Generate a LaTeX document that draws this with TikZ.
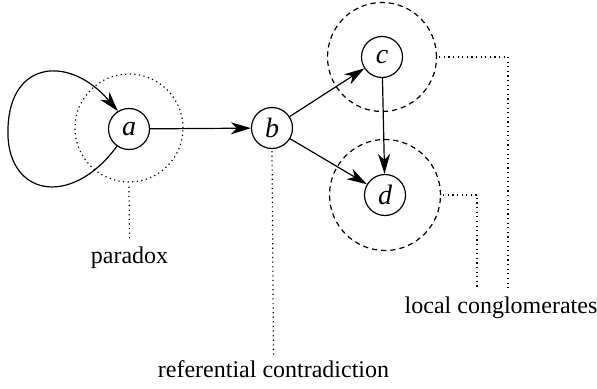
\documentclass[tikz,border=0pt]{standalone}
\usepackage{fontspec}
\setmainfont{Liberation Serif}
\usetikzlibrary{arrows.meta}
\begin{document}
\begin{tikzpicture}[x=0.5pt,y=-0.5pt,
  vert/.style={circle,draw,line width=0.6pt,minimum size=20.5pt,inner sep=0pt,font=\fontsize{14}{16}\selectfont\itshape},
  edge/.style={line width=0.6pt,-{Stealth[length=10pt,width=6pt,inset=3pt]}},
  ring/.style={circle,draw,minimum size=#1,inner sep=0pt},
  dashring/.style={ring=#1,line width=0.6pt,dash pattern=on 2.6pt off 2pt},
  dotring/.style={ring=#1,line width=0.6pt,dash pattern=on 0.6pt off 1.7pt},
  leader/.style={line width=0.6pt,dash pattern=on 0.6pt off 1.7pt},
  lbl/.style={font=\fontsize{12}{14}\selectfont,inner sep=2.5pt,anchor=base}]
\useasboundingbox (0,0) rectangle (597,389);
\node[vert] (a) at (129,129) {a};
\node[vert] (b) at (272,128) {b};
\node[vert] (c) at (382,57) {c};
\node[vert] (d) at (385,195) {d};
\node[dotring=54pt] (ra) at (129,128) {};
\node[dashring=54.5pt] (rc) at (382,57) {};
\node[dashring=55.5pt] (rd) at (385,195) {};
\draw[edge] (a) -- (b);
\draw[edge] (b) -- (c);
\draw[edge] (b) -- (d);
\draw[edge] (c) -- (d);
\draw[edge] (a.-125) .. controls (70,210) and (5,195) .. (8,128)
  .. controls (10,60) and (70,55) .. (a.122);
\node[lbl] (par) at (129.5,263) {paradox};
\node[lbl] (ref) at (273.5,377) {referential contradiction};
\node[lbl] (loc) at (501,313) {local conglomerates};
\coordinate (k1) at (508,288);
\coordinate (k2) at (477,288);
\draw[leader] ([yshift=-2pt]ra.south) -- (par.north);
\draw[leader] ([yshift=-1pt]b.south) -- (ref.north);
\draw[leader] ([xshift=1pt]rc.east) -| (k1);
\draw[leader] ([xshift=1pt]rd.east) -| (k2);
\end{tikzpicture}
\end{document}
